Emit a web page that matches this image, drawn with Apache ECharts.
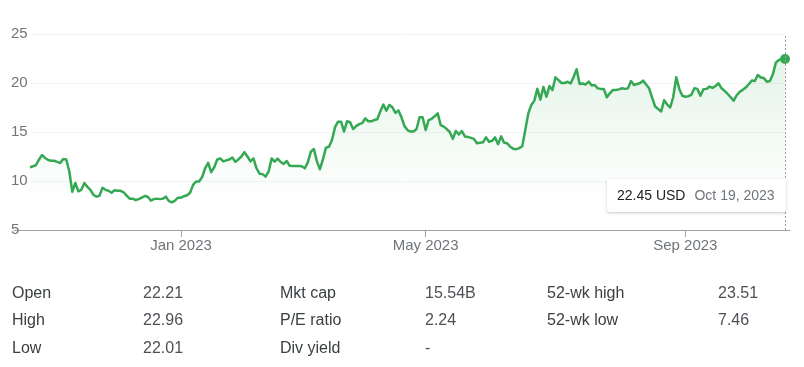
<!DOCTYPE html>
<html>
<head>
<meta charset="utf-8">
<script src="https://cdn.jsdelivr.net/npm/echarts@6/dist/echarts.min.js"></script>
<style>
  html, body { margin: 0; padding: 0; background: #fff; }
  #wrap { position: relative; width: 804px; height: 367px; overflow: hidden; font-family: "Liberation Sans", Arial, sans-serif; }
  #chart { position: absolute; left: 0; top: 0; width: 804px; height: 367px; }
  .cell { position: absolute; font-size: 16px; line-height: 18px; white-space: nowrap; z-index: 5; }
  .k { color: #3c4043; }
  .v { color: #4d5156; }
</style>
</head>
<body>
<div id="wrap">
  <div id="chart"></div>
</div>
<script>
// ---- data ----
const startDate = '2022-10-20';
const endDate = '2023-10-19';
const marketHolidays = ['2022-11-24','2022-12-26','2023-01-02','2023-01-16','2023-02-20','2023-04-07','2023-05-29','2023-06-19','2023-07-04','2023-09-04'];

// closing prices (USD), one per trading day
const pricesQ4_2022 = [11.40,11.50,11.63,12.20,12.65,12.35,12.15,12.07,12.07,11.95,
  11.84,12.25,12.20,11.00,8.90,9.80,8.95,9.10,9.80,9.40,
  9.10,8.60,8.40,8.50,9.30,9.10,9.00,8.80,9.05,9.00,
  9.00,8.85,8.50,8.20,8.20,8.06,8.15,8.30,8.47,8.40,
  8.00,8.15,8.20,8.15,8.20,8.40,7.95,7.82,8.00,8.30];
const pricesQ1_2023 = [8.30,8.45,8.55,8.80,9.60,9.95,9.95,10.40,11.30,11.85,
  10.90,11.40,12.20,12.30,12.00,12.10,12.20,12.40,11.95,12.20,
  12.50,12.95,12.50,12.00,12.30,11.30,10.75,10.70,10.45,10.95,
  12.30,11.97,12.28,11.94,11.75,12.04,11.55,11.53,11.53,11.53,
  11.50,11.30,11.90,13.00,13.27,12.00,11.20,12.20,13.40,13.50,
  14.18,15.50,16.05,16.05,15.05,16.10,16.00,15.30,15.60,15.80,
  15.90,16.39];
const pricesQ2_2023 = [16.10,16.10,16.22,16.30,17.10,17.80,17.17,17.76,17.52,16.95,
  17.20,16.50,15.60,15.20,15.05,15.05,15.30,16.50,16.50,15.20,
  16.20,16.35,16.60,16.90,15.70,15.55,15.30,15.00,14.30,15.10,
  14.75,15.10,14.55,14.50,14.40,14.30,13.85,13.90,13.95,14.45,
  14.00,14.10,14.45,13.76,14.55,13.90,13.85,13.50,13.30,13.25,
  13.35,13.55,15.20,16.90,17.76,18.20,19.40,18.30,19.60,18.60,
  19.69,19.29];
const pricesQ3_2023 = [20.58,20.30,20.00,20.00,20.13,19.95,20.60,21.40,19.90,19.95,
  19.85,20.15,19.75,19.80,19.45,19.40,19.39,18.55,18.95,19.29,
  19.29,19.35,19.46,19.40,19.45,20.20,19.80,19.90,20.00,20.24,
  19.85,19.46,18.50,17.60,17.35,17.10,18.25,17.80,17.50,18.60,
  20.58,19.40,18.70,18.60,18.65,18.80,19.46,19.40,18.70,19.36,
  19.40,19.63,19.50,19.70,19.97,19.46,19.20,18.90,18.55,18.20,
  18.75,19.10,19.30];
const pricesOct_2023 = [19.53,19.87,20.25,20.20,20.82,20.56,20.50,20.13,20.20,20.90,
  22.10,22.35,22.52,22.45];

const yTicks = [5, 10, 15, 20, 25];
const xTickDates = ['2023-01-03', '2023-05-01', '2023-09-01'];
const xTickLabels = ['Jan 2023', 'May 2023', 'Sep 2023'];

const statRows = [
  ['Open', '22.21', 'Mkt cap', '15.54B', '52-wk high', '23.51'],
  ['High', '22.96', 'P/E ratio', '2.24', '52-wk low', '7.46'],
  ['Low', '22.01', 'Div yield', '-', '', '']
];
const currency = 'USD';

// ---- build ----
function tradingDays(start, end, holidays) {
  const out = [];
  const d = new Date(start + 'T00:00:00Z');
  const e = new Date(end + 'T00:00:00Z');
  while (d <= e) {
    const s = d.toISOString().slice(0, 10);
    const wd = d.getUTCDay();
    if (wd !== 0 && wd !== 6 && holidays.indexOf(s) < 0) out.push(s);
    d.setUTCDate(d.getUTCDate() + 1);
  }
  return out;
}
const prices = [].concat(pricesQ4_2022, pricesQ1_2023, pricesQ2_2023, pricesQ3_2023, pricesOct_2023);
let dates = tradingDays(startDate, endDate, marketHolidays);
if (dates.length > prices.length) dates = dates.slice(dates.length - prices.length);
const last = prices.length - 1;

const MONTHS = ['Jan','Feb','Mar','Apr','May','Jun','Jul','Aug','Sep','Oct','Nov','Dec'];
function fmtDate(s) {
  const p = s.split('-');
  return MONTHS[+p[1] - 1] + ' ' + (+p[2]) + ', ' + p[0];
}

const FONT = '"Liberation Sans", Arial, sans-serif';
const GREEN = '#34a853';

const chart = echarts.init(document.getElementById('chart'), null, { renderer: 'canvas' });
chart.setOption({
  animation: false,
  grid: [
    { left: 30, right: 19, top: 34, bottom: 137 },
    { left: 14, right: 14, top: 34, bottom: 137 }
  ],
  xAxis: [
    {
      type: 'category', gridIndex: 0, data: dates, boundaryGap: false,
      axisLine: { show: false },
      axisTick: { show: true, length: 7, lineStyle: { color: '#9aa0a6' },
        interval: (i, v) => xTickDates.indexOf(v) >= 0 },
      axisLabel: { show: true, color: '#70757a', fontSize: 15, fontFamily: FONT, margin: 8,
        interval: (i, v) => xTickDates.indexOf(v) >= 0,
        formatter: v => xTickLabels[xTickDates.indexOf(v)] || '' },
      splitLine: { show: false }
    },
    {
      type: 'value', gridIndex: 1, min: 0, max: 1,
      axisLine: { show: true, lineStyle: { color: '#9aa0a6', width: 1 } },
      axisTick: { show: false }, axisLabel: { show: false }, splitLine: { show: false }
    }
  ],
  yAxis: [
    {
      type: 'value', gridIndex: 0, min: yTicks[0], max: yTicks[yTicks.length - 1], interval: 5,
      axisLine: { show: false }, axisTick: { show: false },
      axisLabel: { color: '#70757a', fontSize: 15, fontFamily: FONT, align: 'left', margin: 19 },
      splitLine: { show: true, lineStyle: { color: '#f1f3f4', width: 1 } }
    },
    { type: 'value', gridIndex: 1, show: false, min: 0, max: 1 }
  ],
  tooltip: {
    trigger: 'axis',
    alwaysShowContent: true,
    transitionDuration: 0,
    backgroundColor: '#ffffff',
    borderWidth: 0,
    padding: [8, 11, 8, 10],
    extraCssText: 'box-shadow: 0 1px 3px rgba(60,64,67,0.28); border-radius: 2px; font-family: ' + FONT + '; font-size:14px; line-height:17px;',
    axisPointer: { type: 'line', animation: false, lineStyle: { color: '#9aa0a6', width: 1, type: [2, 2] } },
    formatter: params => {
      const p = params[0];
      return '<span style="color:#202124">' + prices[p.dataIndex].toFixed(2) + ' ' + currency + '</span>' +
             '<span style="color:#70757a;margin-left:9px">' + fmtDate(p.axisValue) + '</span>';
    },
    position: (point, params, dom, rect, size) => {
      const yBottom = chart.convertToPixel({ yAxisIndex: 0 }, yTicks[0]);
      return [point[0] + 1 - size.contentSize[0], yBottom - 51];
    }
  },
  series: [
    {
      type: 'line', xAxisIndex: 0, yAxisIndex: 0, data: prices,
      symbol: 'none', smooth: false,
      lineStyle: { color: GREEN, width: 2.5, join: 'round' },
      emphasis: { disabled: true },
      areaStyle: {
        color: new echarts.graphic.LinearGradient(0, 0, 0, 1, [
          { offset: 0, color: 'rgba(52,168,83,0.18)' },
          { offset: 0.85, color: 'rgba(52,168,83,0)' }
        ])
      },
      markPoint: {
        symbol: 'circle', symbolSize: 10, silent: true,
        itemStyle: { color: GREEN },
        label: { show: false },
        data: [{ coord: [dates[last], prices[last]] }]
      }
    }
  ]
});
chart.dispatchAction({ type: 'showTip', seriesIndex: 0, dataIndex: last });

// stats table
const colX = [12, 143, 280, 425, 547, 718];
const rowY = [293, 320, 348];
const wrap = document.getElementById('wrap');
statRows.forEach((row, r) => {
  row.forEach((txt, c) => {
    if (!txt) return;
    const el = document.createElement('div');
    el.className = 'cell ' + (c % 2 === 0 ? 'k' : 'v');
    el.style.left = colX[c] + 'px';
    el.style.top = (rowY[r] - 9) + 'px';
    el.textContent = txt;
    wrap.appendChild(el);
  });
});
</script>
</body>
</html>
